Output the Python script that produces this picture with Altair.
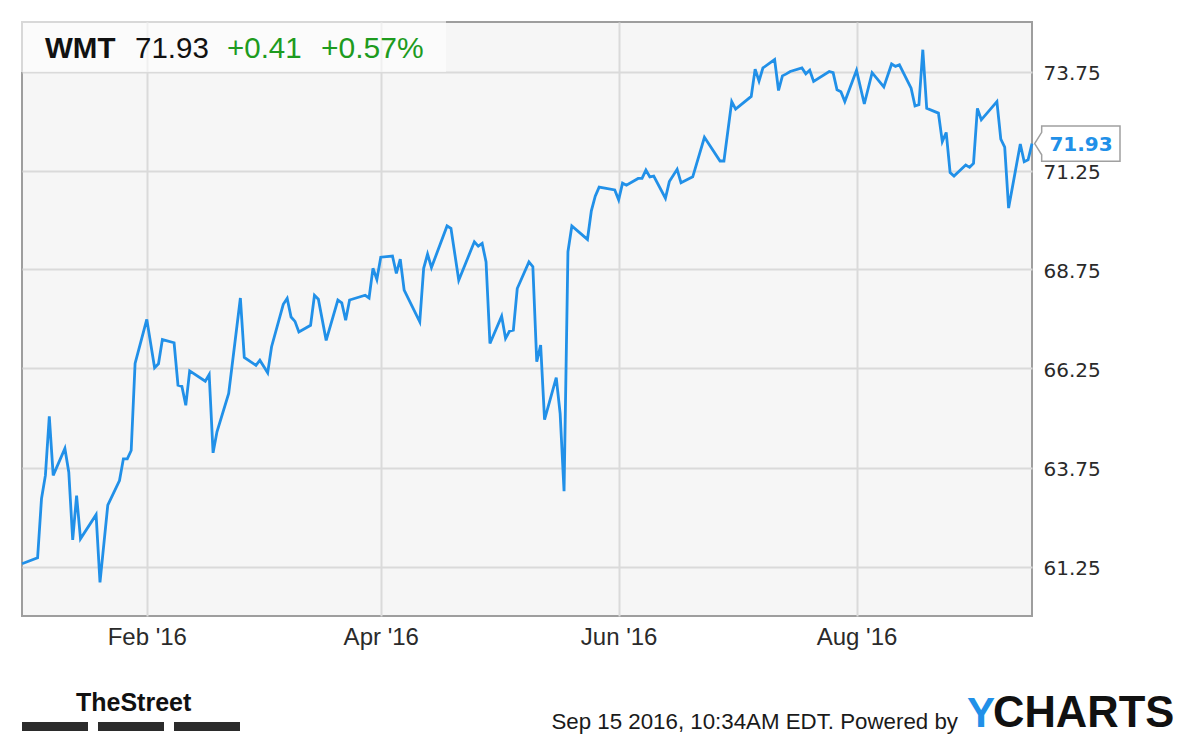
import altair as alt
import pandas as pd

# ---- data (WMT daily close) ----
dates = [
    "2015-12-31", "2016-01-04", "2016-01-05", "2016-01-06", "2016-01-07", "2016-01-08",
    "2016-01-11", "2016-01-12", "2016-01-13", "2016-01-14", "2016-01-15", "2016-01-19",
    "2016-01-20", "2016-01-22", "2016-01-25", "2016-01-26", "2016-01-27", "2016-01-28",
    "2016-01-29", "2016-02-01", "2016-02-03", "2016-02-04", "2016-02-05", "2016-02-08",
    "2016-02-09", "2016-02-10", "2016-02-11", "2016-02-12", "2016-02-16", "2016-02-17",
    "2016-02-18", "2016-02-19", "2016-02-22", "2016-02-25", "2016-02-26", "2016-02-29",
    "2016-03-01", "2016-03-03", "2016-03-04", "2016-03-07", "2016-03-08", "2016-03-09",
    "2016-03-10", "2016-03-11", "2016-03-14", "2016-03-15", "2016-03-16", "2016-03-18",
    "2016-03-21", "2016-03-22", "2016-03-23", "2016-03-24", "2016-03-28", "2016-03-29",
    "2016-03-30", "2016-03-31", "2016-04-01", "2016-04-04", "2016-04-05", "2016-04-06",
    "2016-04-07", "2016-04-11", "2016-04-12", "2016-04-13", "2016-04-14", "2016-04-18",
    "2016-04-19", "2016-04-21", "2016-04-25", "2016-04-26", "2016-04-27", "2016-04-28",
    "2016-04-29", "2016-05-02", "2016-05-03", "2016-05-04", "2016-05-05", "2016-05-06",
    "2016-05-09", "2016-05-10", "2016-05-11", "2016-05-12", "2016-05-13", "2016-05-16",
    "2016-05-17", "2016-05-18", "2016-05-19", "2016-05-20", "2016-05-24", "2016-05-25",
    "2016-05-26", "2016-05-27", "2016-05-31", "2016-06-01", "2016-06-02", "2016-06-03",
    "2016-06-06", "2016-06-07", "2016-06-08", "2016-06-09", "2016-06-10", "2016-06-13",
    "2016-06-14", "2016-06-16", "2016-06-17", "2016-06-20", "2016-06-23", "2016-06-27",
    "2016-06-28", "2016-06-30", "2016-07-01", "2016-07-05", "2016-07-06", "2016-07-07",
    "2016-07-08", "2016-07-11", "2016-07-12", "2016-07-13", "2016-07-14", "2016-07-15",
    "2016-07-18", "2016-07-19", "2016-07-20", "2016-07-21", "2016-07-25", "2016-07-26",
    "2016-07-27", "2016-07-28", "2016-07-29", "2016-08-01", "2016-08-03", "2016-08-05",
    "2016-08-08", "2016-08-10", "2016-08-11", "2016-08-12", "2016-08-15", "2016-08-16",
    "2016-08-17", "2016-08-18", "2016-08-19", "2016-08-22", "2016-08-23", "2016-08-24",
    "2016-08-25", "2016-08-26", "2016-08-29", "2016-08-30", "2016-08-31", "2016-09-01",
    "2016-09-02", "2016-09-06", "2016-09-07", "2016-09-08", "2016-09-09", "2016-09-12",
    "2016-09-13", "2016-09-14", "2016-09-15",
]
values = [
    61.32, 61.47, 62.96, 63.55, 65.04, 63.55,
    64.23, 63.63, 61.92, 63.04, 61.95, 62.56,
    60.85, 62.80, 63.42, 63.97, 63.97, 64.18,
    66.38, 67.49, 66.27, 66.37, 66.98, 66.90,
    65.83, 65.80, 65.32, 66.19, 65.93, 66.10,
    64.12, 64.65, 65.62, 68.03, 66.53, 66.33,
    66.46, 66.14, 66.80, 67.87, 68.02, 67.55,
    67.44, 67.17, 67.34, 68.10, 68.00, 66.96,
    67.98, 67.91, 67.47, 67.98, 68.10, 68.03,
    68.78, 68.50, 69.06, 69.09, 68.65, 69.01,
    68.23, 67.43, 68.78, 69.14, 68.80, 69.85,
    69.79, 68.48, 69.45, 69.34, 69.41, 68.94,
    66.88, 67.57, 67.01, 67.19, 67.22, 68.27,
    68.94, 68.82, 66.42, 66.84, 64.96, 66.02,
    65.11, 63.15, 69.20, 69.85, 69.51, 70.23,
    70.60, 70.83, 70.76, 70.51, 70.93, 70.88,
    71.05, 71.05, 71.26, 71.09, 71.11, 70.55,
    70.97, 71.28, 70.94, 71.09, 72.09, 71.49,
    71.49, 72.99, 72.80, 73.12, 73.81, 73.51,
    73.84, 74.05, 73.27, 73.64, 73.69, 73.75,
    73.84, 73.69, 73.78, 73.50, 73.75, 73.72,
    73.29, 73.24, 72.99, 73.78, 72.93, 73.72,
    73.36, 73.94, 73.88, 73.92, 73.33, 72.88,
    72.91, 74.30, 72.82, 72.70, 71.98, 72.21,
    71.20, 71.11, 71.39, 71.33, 71.43, 72.82,
    72.53, 72.99, 72.04, 71.84, 70.30, 71.92,
    71.47, 71.52, 71.93,
]

ticker = "WMT"
last_price = "71.93"
change_abs = "+0.41"
change_pct = "+0.57%"
y_ticks = [61.25, 63.75, 66.25, 68.75, 71.25, 73.75]
x_tick_months = [2, 4, 6, 8]
timestamp_text = "Sep 15 2016, 10:34AM EDT.  Powered by"
brand_left = "TheStreet"
brand_right_a = "Y"
brand_right_b = "CHARTS"

# ---- styles ----
BLUE = "#2190e8"
GREEN = "#1e9b1e"
SANS = "Liberation Sans"

df = pd.DataFrame({"date": dates, "value": values})
last_df = pd.DataFrame({"date": [dates[-1]], "value": [values[-1]], "label": [last_price]})

x_scale = alt.Scale(
    type="utc",
    domain=[alt.DateTime(year=2015, month=12, date=31, utc=True),
            alt.DateTime(year=2016, month=9, date=15, utc=True)],
)
y_scale = alt.Scale(domain=[60, 75], nice=False, zero=False)

x_enc = alt.X(
    "date:T", scale=x_scale,
    axis=alt.Axis(
        values=[alt.DateTime(year=2016, month=m, date=1, utc=True) for m in x_tick_months],
        labelExpr="utcFormat(datum.value, \"%b '%y\")",
        title=None, domain=False, ticks=False, tickSize=0, labelPadding=9,
        labelFont=SANS, labelFontSize=24, labelColor="#2a2a2a",
        grid=True, gridColor="#dadada", gridWidth=2,
    ),
)
y_enc = alt.Y(
    "value:Q", scale=y_scale,
    axis=alt.Axis(
        orient="right", values=y_ticks, format=".2f",
        title=None, domain=False, ticks=False, tickSize=0, labelPadding=11,
        labelOffset=1.5,
        labelFont="DejaVu Sans", labelFontSize=20, labelColor="#2a2a2a",
        grid=True, gridColor="#dadada", gridWidth=2,
    ),
)

line = alt.Chart(df).mark_line(color=BLUE, strokeWidth=2.8, strokeJoin="miter").encode(x=x_enc, y=y_enc)

one = alt.Data(values=[{}])

header_box = alt.Chart(one).mark_rect(fill="white", opacity=0.6).encode(
    x=alt.value(-1), x2=alt.value(424), y=alt.value(-1), y2=alt.value(50)
)

def label(text, x, y, size, color, weight="normal", align="left", font=SANS, baseline="alphabetic"):
    return alt.Chart(one).mark_text(
        text=text, align=align, baseline=baseline, font=font,
        fontSize=size, fontWeight=weight, color=color,
    ).encode(x=alt.value(x), y=alt.value(y))

hdr = (
    label(ticker, 23, 35.5, 29.5, "#111111", weight="bold")
    + label(last_price, 113, 35.5, 29.5, "#111111")
    + label(change_abs, 205, 35.5, 29.5, GREEN)
    + label(change_pct, 299, 35.5, 30, GREEN)
)

callout_path = "M0.03,0 L0.11,-0.128 L0.11,-0.2 L1,-0.2 L1,0.2 L0.11,0.2 L0.11,0.128 Z"
callout_box = alt.Chart(last_df).mark_point(
    shape=callout_path, size=30976, filled=True, fill="white",
    stroke="#a0a0a0", strokeWidth=1.5, opacity=1,
).encode(x=alt.X("date:T", scale=x_scale), y=alt.Y("value:Q", scale=y_scale))
callout_text = alt.Chart(last_df).mark_text(
    align="center", baseline="middle", dx=49, dy=1, font="DejaVu Sans",
    fontSize=20, fontWeight="bold", color=BLUE,
).encode(x=alt.X("date:T", scale=x_scale), y=alt.Y("value:Q", scale=y_scale), text="label:N")

footer_bars = alt.Chart(one).mark_rule(
    color="#2b2b2b", strokeWidth=9, strokeDash=[66, 10], strokeCap="butt"
).encode(x=alt.value(0), x2=alt.value(219), y=alt.value(704.5))

footer = (
    label(brand_left, 54, 689, 25, "#111111", weight="bold")
    + label(timestamp_text, 936, 707, 22.3, "#1a1a1a", align="right")
    + label(brand_right_a, 945, 705, 42, BLUE, weight="bold")
    + label(brand_right_b, 971, 705, 43.5, "#111111", weight="bold")
)

chart = alt.layer(
    header_box, line, callout_box, callout_text, hdr, footer_bars, footer
).properties(
    width=1010, height=594,
    padding={"left": 14, "top": 14, "right": 158, "bottom": 120},
    autosize=alt.AutoSizeParams(type="none"),
    background="white",
).configure_view(
    fill="#f6f6f6", stroke="#9e9e9e", strokeWidth=2
)

chart.save("out.html", embed_options={"renderer": "svg", "actions": False})
